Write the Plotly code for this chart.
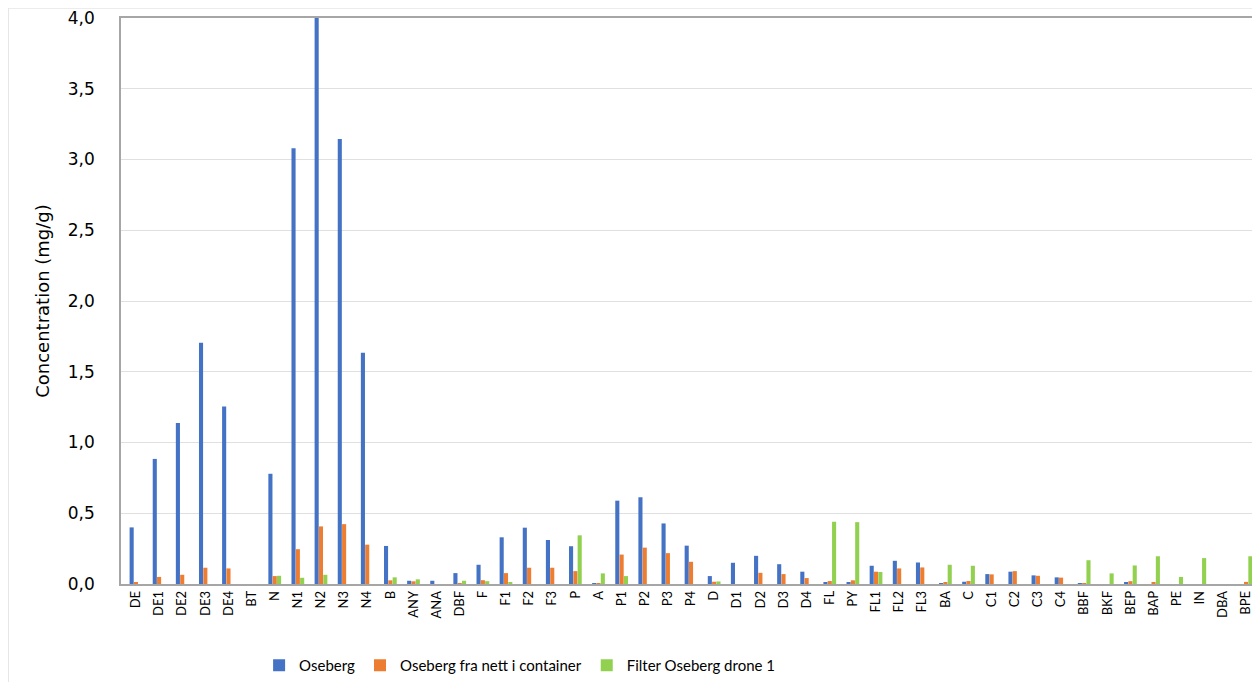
import plotly.graph_objects as go

categories = ["DE", "DE1", "DE2", "DE3", "DE4", "BT", "N", "N1", "N2", "N3", "N4", "B",
              "ANY", "ANA", "DBF", "F", "F1", "F2", "F3", "P", "A", "P1", "P2", "P3", "P4",
              "D", "D1", "D2", "D3", "D4", "FL", "PY", "FL1", "FL2", "FL3", "BA", "C",
              "C1", "C2", "C3", "C4", "BBF", "BKF", "BEP", "BAP", "PE", "IN", "DBA", "BPE"]

oseberg = [0.40, 0.884, 1.137, 1.705, 1.254, 0.0, 0.779, 3.08, 4.0, 3.144, 1.635, 0.269,
           0.023, 0.023, 0.077, 0.136, 0.33, 0.398, 0.311, 0.267, 0.005, 0.589, 0.613, 0.428, 0.271,
           0.056, 0.15, 0.199, 0.14, 0.087, 0.014, 0.014, 0.129, 0.164, 0.152, 0.007, 0.016,
           0.07, 0.087, 0.061, 0.047, 0.003, 0.0, 0.014, 0.0, 0.0, 0.0, 0.0, 0.0]

container = [0.012, 0.05, 0.065, 0.115, 0.11, 0.0, 0.056, 0.246, 0.407, 0.423, 0.278, 0.026,
             0.019, 0.0, 0.005, 0.027, 0.077, 0.115, 0.115, 0.091, 0.003, 0.208, 0.257, 0.218, 0.157,
             0.016, 0.0, 0.079, 0.07, 0.042, 0.021, 0.026, 0.087, 0.11, 0.117, 0.009, 0.021,
             0.068, 0.091, 0.058, 0.045, 0.002, 0.0, 0.02, 0.012, 0.0, 0.0, 0.0, 0.015]

drone = [0.0, 0.0, 0.0, 0.0, 0.0, 0.0, 0.058, 0.044, 0.065, 0.0, 0.0, 0.047,
         0.033, 0.0, 0.023, 0.02, 0.01, 0.0, 0.0, 0.344, 0.075, 0.056, 0.0, 0.0, 0.0,
         0.018, 0.0, 0.0, 0.0, 0.0, 0.44, 0.437, 0.085, 0.0, 0.0, 0.136, 0.129,
         0.0, 0.0, 0.0, 0.0, 0.168, 0.075, 0.131, 0.196, 0.05, 0.183, 0.0, 0.196]

series_names = ["Oseberg", "Oseberg fra nett i container", "Filter Oseberg drone 1"]
series_colors = ["#4472C4", "#ED7D31", "#92D050"]

fig = go.Figure()
for name, vals, col in zip(series_names, [oseberg, container, drone], series_colors):
    fig.add_trace(go.Bar(x=categories, y=vals, name=name, marker_color=col,
                         marker_line_width=0))

fig.update_layout(
    width=1245, height=674,
    margin=dict(l=113, r=0, t=10, b=92),
    paper_bgcolor="white", plot_bgcolor="white",
    barmode="group", bargap=0.44, bargroupgap=0.05,
    separators=",.",
    font=dict(family="Lato, Open Sans, sans-serif", color="#000000"),
    showlegend=True,
    legend=dict(orientation="h", x=0.122, xanchor="left", y=-0.145, yanchor="middle",
                bgcolor="rgba(0,0,0,0)",
                font=dict(size=15, family="Lato, sans-serif", color="#000"),
                traceorder="normal", itemwidth=30),
    xaxis=dict(type="category", range=[-0.647, 48.3], tickangle=-90,
               tickfont=dict(size=13, color="#000", family="Lato, sans-serif"),
               showline=True, linecolor="#A6A6A6", ticklabeloverflow="allow",
               linewidth=1.5, mirror=True, ticks="", showgrid=False),
    yaxis=dict(range=[0, 4.0], dtick=0.5, tickformat=".1f", showgrid=True,
               gridcolor="#E0E0E0", gridwidth=1, showline=True, linecolor="#A6A6A6",
               linewidth=1.5, ticks="", ticklabelstandoff=21, ticklabeloverflow="allow",
               tickfont=dict(size=17, color="#000", family="DejaVu Sans, sans-serif"),
               zeroline=False,
               title=dict(text="Concentration (mg/g)",
                          font=dict(size=18, color="#000", family="DejaVu Sans, sans-serif"),
                          standoff=14)),
    shapes=[dict(type="rect", xref="paper", yref="paper", x0=-0.0996, x1=1.01, y0=-0.25, y1=1.0175,
                 line=dict(color="#E6E6E6", width=1.5), fillcolor="rgba(0,0,0,0)", layer="below")],
)

fig.write_html("out.html")
